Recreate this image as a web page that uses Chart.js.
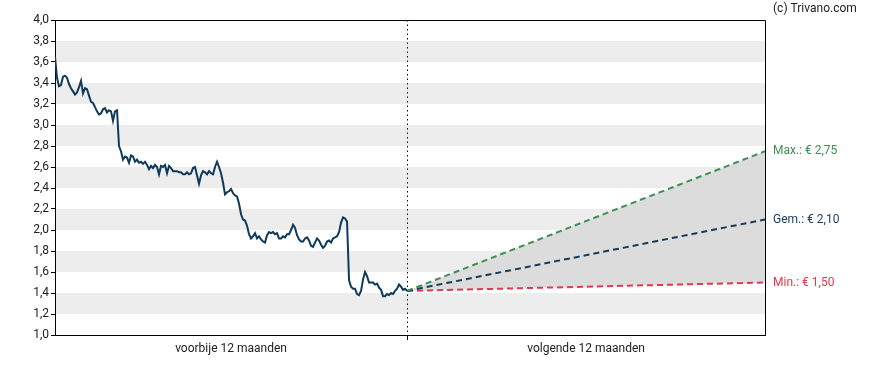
<!DOCTYPE html>
<html>
<head>
<meta charset="utf-8">
<script src="https://cdn.jsdelivr.net/npm/chart.js@4"></script>
<style>
  body { margin: 0; background: #fff; }
  #wrap { width: 888px; height: 370px; }
</style>
</head>
<body>
<div id="wrap"><canvas id="koers"></canvas></div>
<script>
// x-as: twee perioden (in dagen rond vandaag)
const periodLabels = ['voorbije 12 maanden', 'volgende 12 maanden'];
const historyDays = 359;
const forecastDays = 365;

const prices = [
  3.65, 3.45, 3.37, 3.38, 3.46, 3.47, 3.45, 3.39, 3.35, 3.32,
  3.29, 3.31, 3.36, 3.42, 3.30, 3.35, 3.34, 3.28, 3.22, 3.21,
  3.17, 3.13, 3.10, 3.11, 3.15, 3.16, 3.12, 3.14, 3.13, 3.04,
  3.13, 3.14, 2.80, 2.75, 2.67, 2.70, 2.69, 2.64, 2.71, 2.70,
  2.65, 2.67, 2.64, 2.65, 2.63, 2.65, 2.62, 2.58, 2.61, 2.59,
  2.62, 2.60, 2.53, 2.61, 2.60, 2.62, 2.54, 2.61, 2.59, 2.56,
  2.56, 2.56, 2.55, 2.55, 2.53, 2.53, 2.55, 2.53, 2.54, 2.59,
  2.60, 2.52, 2.44, 2.52, 2.56, 2.55, 2.53, 2.56, 2.54, 2.53,
  2.60, 2.65, 2.60, 2.54, 2.45, 2.34, 2.36, 2.37, 2.39, 2.35,
  2.33, 2.32, 2.25, 2.15, 2.10, 2.09, 2.04, 1.96, 1.92, 1.94,
  1.97, 1.92, 1.94, 1.91, 1.89, 1.88, 1.95, 1.98, 1.97, 1.98,
  1.96, 1.97, 1.92, 1.92, 1.94, 1.93, 1.96, 1.96, 2.00, 2.05,
  2.02, 1.95, 1.91, 1.89, 1.89, 1.92, 1.93, 1.90, 1.85, 1.84,
  1.88, 1.92, 1.90, 1.86, 1.83, 1.85, 1.89, 1.90, 1.88, 1.92,
  1.93, 1.94, 1.98, 2.07, 2.12, 2.11, 2.08, 1.52, 1.46, 1.44,
  1.44, 1.39, 1.38, 1.42, 1.53, 1.60, 1.56, 1.50, 1.50, 1.50,
  1.48, 1.49, 1.45, 1.43, 1.37, 1.37, 1.39, 1.38, 1.40, 1.39,
  1.42, 1.44, 1.48, 1.46, 1.43, 1.44, 1.42
];

// koersdoelen volgende 12 maanden
const forecastNames = ['Max.:', 'Gem.:', 'Min.:'];
const forecastTargets = [2.75, 2.10, 1.50];
const forecastColors = ['#3d8f56', '#163b5c', '#e8344c'];

// y-as
const yMin = 1.0;
const yMax = 4.0;
const yStep = 0.2;

const fmt = v => v.toFixed(1).replace('.', ',');
const fmt2 = v => v.toFixed(2).replace('.', ',');

const lastPrice = prices[prices.length - 1];
const historyPoints = prices.map((y, i) => ({
  x: -historyDays + i * historyDays / (prices.length - 1),
  y: y
}));

const forecastSets = forecastTargets.map((t, i) => ({
  data: [{ x: 0, y: lastPrice }, { x: forecastDays, y: t }],
  borderColor: forecastColors[i],
  borderWidth: 2,
  borderDash: [6, 4],
  pointRadius: 0,
  fill: i === 0 ? 3 : false,
  backgroundColor: '#dcdcdc'
}));

// grijze banden
const stripes = {
  id: 'stripes',
  beforeDraw(chart) {
    const { ctx, chartArea: a, scales: { y } } = chart;
    ctx.save();
    ctx.fillStyle = '#ededed';
    y.ticks.forEach((t, i) => {
      if (i % 2 === 1 && i + 1 < y.ticks.length) {
        const top = y.getPixelForValue(y.ticks[i + 1].value);
        const bot = y.getPixelForValue(t.value);
        ctx.fillRect(a.left, top, a.right - a.left, bot - top);
      }
    });
    ctx.restore();
  }
};

// kader, labels rechts, bron
const extras = {
  id: 'extras',
  afterDraw(chart) {
    const { ctx, chartArea: a, scales: { y } } = chart;
    ctx.save();
    ctx.strokeStyle = '#000';
    ctx.lineWidth = 1;
    ctx.beginPath();
    ctx.moveTo(a.left, a.top + 0.5);
    ctx.lineTo(a.right + 0.5, a.top + 0.5);
    ctx.lineTo(a.right + 0.5, a.bottom);
    ctx.stroke();

    ctx.font = '12px Roboto';
    ctx.textBaseline = 'middle';
    ctx.textAlign = 'left';
    forecastTargets.forEach((t, i) => {
      ctx.fillStyle = forecastColors[i];
      ctx.fillText(forecastNames[i] + ' € ' + fmt2(t), a.right + 8, y.getPixelForValue(t));
    });
    ctx.fillStyle = '#222';
    ctx.fillText('(c) Trivano.com', a.right + 8, 9);
    ctx.restore();
  }
};

new Chart(document.getElementById('koers'), {
  type: 'line',
  data: {
    datasets: [{
      data: historyPoints,
      borderColor: '#0f3a5a',
      borderWidth: 2,
      pointRadius: 0,
      tension: 0,
      fill: false
    }].concat(forecastSets)
  },
  options: {
    animation: false,
    responsive: true,
    maintainAspectRatio: false,
    layout: { padding: { top: 20, right: 123, bottom: 0, left: 0 } },
    plugins: {
      legend: { display: false },
      tooltip: { enabled: false },
      filler: { drawTime: 'beforeDatasetsDraw' }
    },
    scales: {
      x: {
        type: 'linear',
        min: -historyDays,
        max: forecastDays,
        afterBuildTicks(axis) {
          axis.ticks = [-historyDays / 2, 0, forecastDays / 2].map(v => ({ value: v }));
        },
        afterFit(axis) { axis.height = 35; },
        ticks: {
          autoSkip: false,
          maxRotation: 0,
          padding: 2,
          color: '#222',
          font: { family: 'Roboto', size: 12 },
          callback: v => v < 0 ? periodLabels[0] : v > 0 ? periodLabels[1] : ''
        },
        grid: {
          color: c => c.tick && c.tick.value === 0 ? '#000' : 'transparent',
          tickColor: c => c.tick && c.tick.value === 0 ? '#000' : 'transparent',
          tickBorderDash: [],
          tickLength: 5,
          lineWidth: 1
        },
        border: { color: '#000', width: 1, dash: [1.5, 3] }
      },
      y: {
        min: yMin,
        max: yMax,
        afterFit(axis) { axis.width = 55; },
        ticks: {
          stepSize: yStep,
          padding: 2,
          color: '#222',
          font: { family: 'Roboto', size: 12 },
          callback: v => fmt(v)
        },
        grid: {
          drawOnChartArea: false,
          tickColor: '#000',
          tickLength: 4
        },
        border: { color: '#000', width: 1 }
      }
    }
  },
  plugins: [stripes, extras]
});
</script>
</body>
</html>
